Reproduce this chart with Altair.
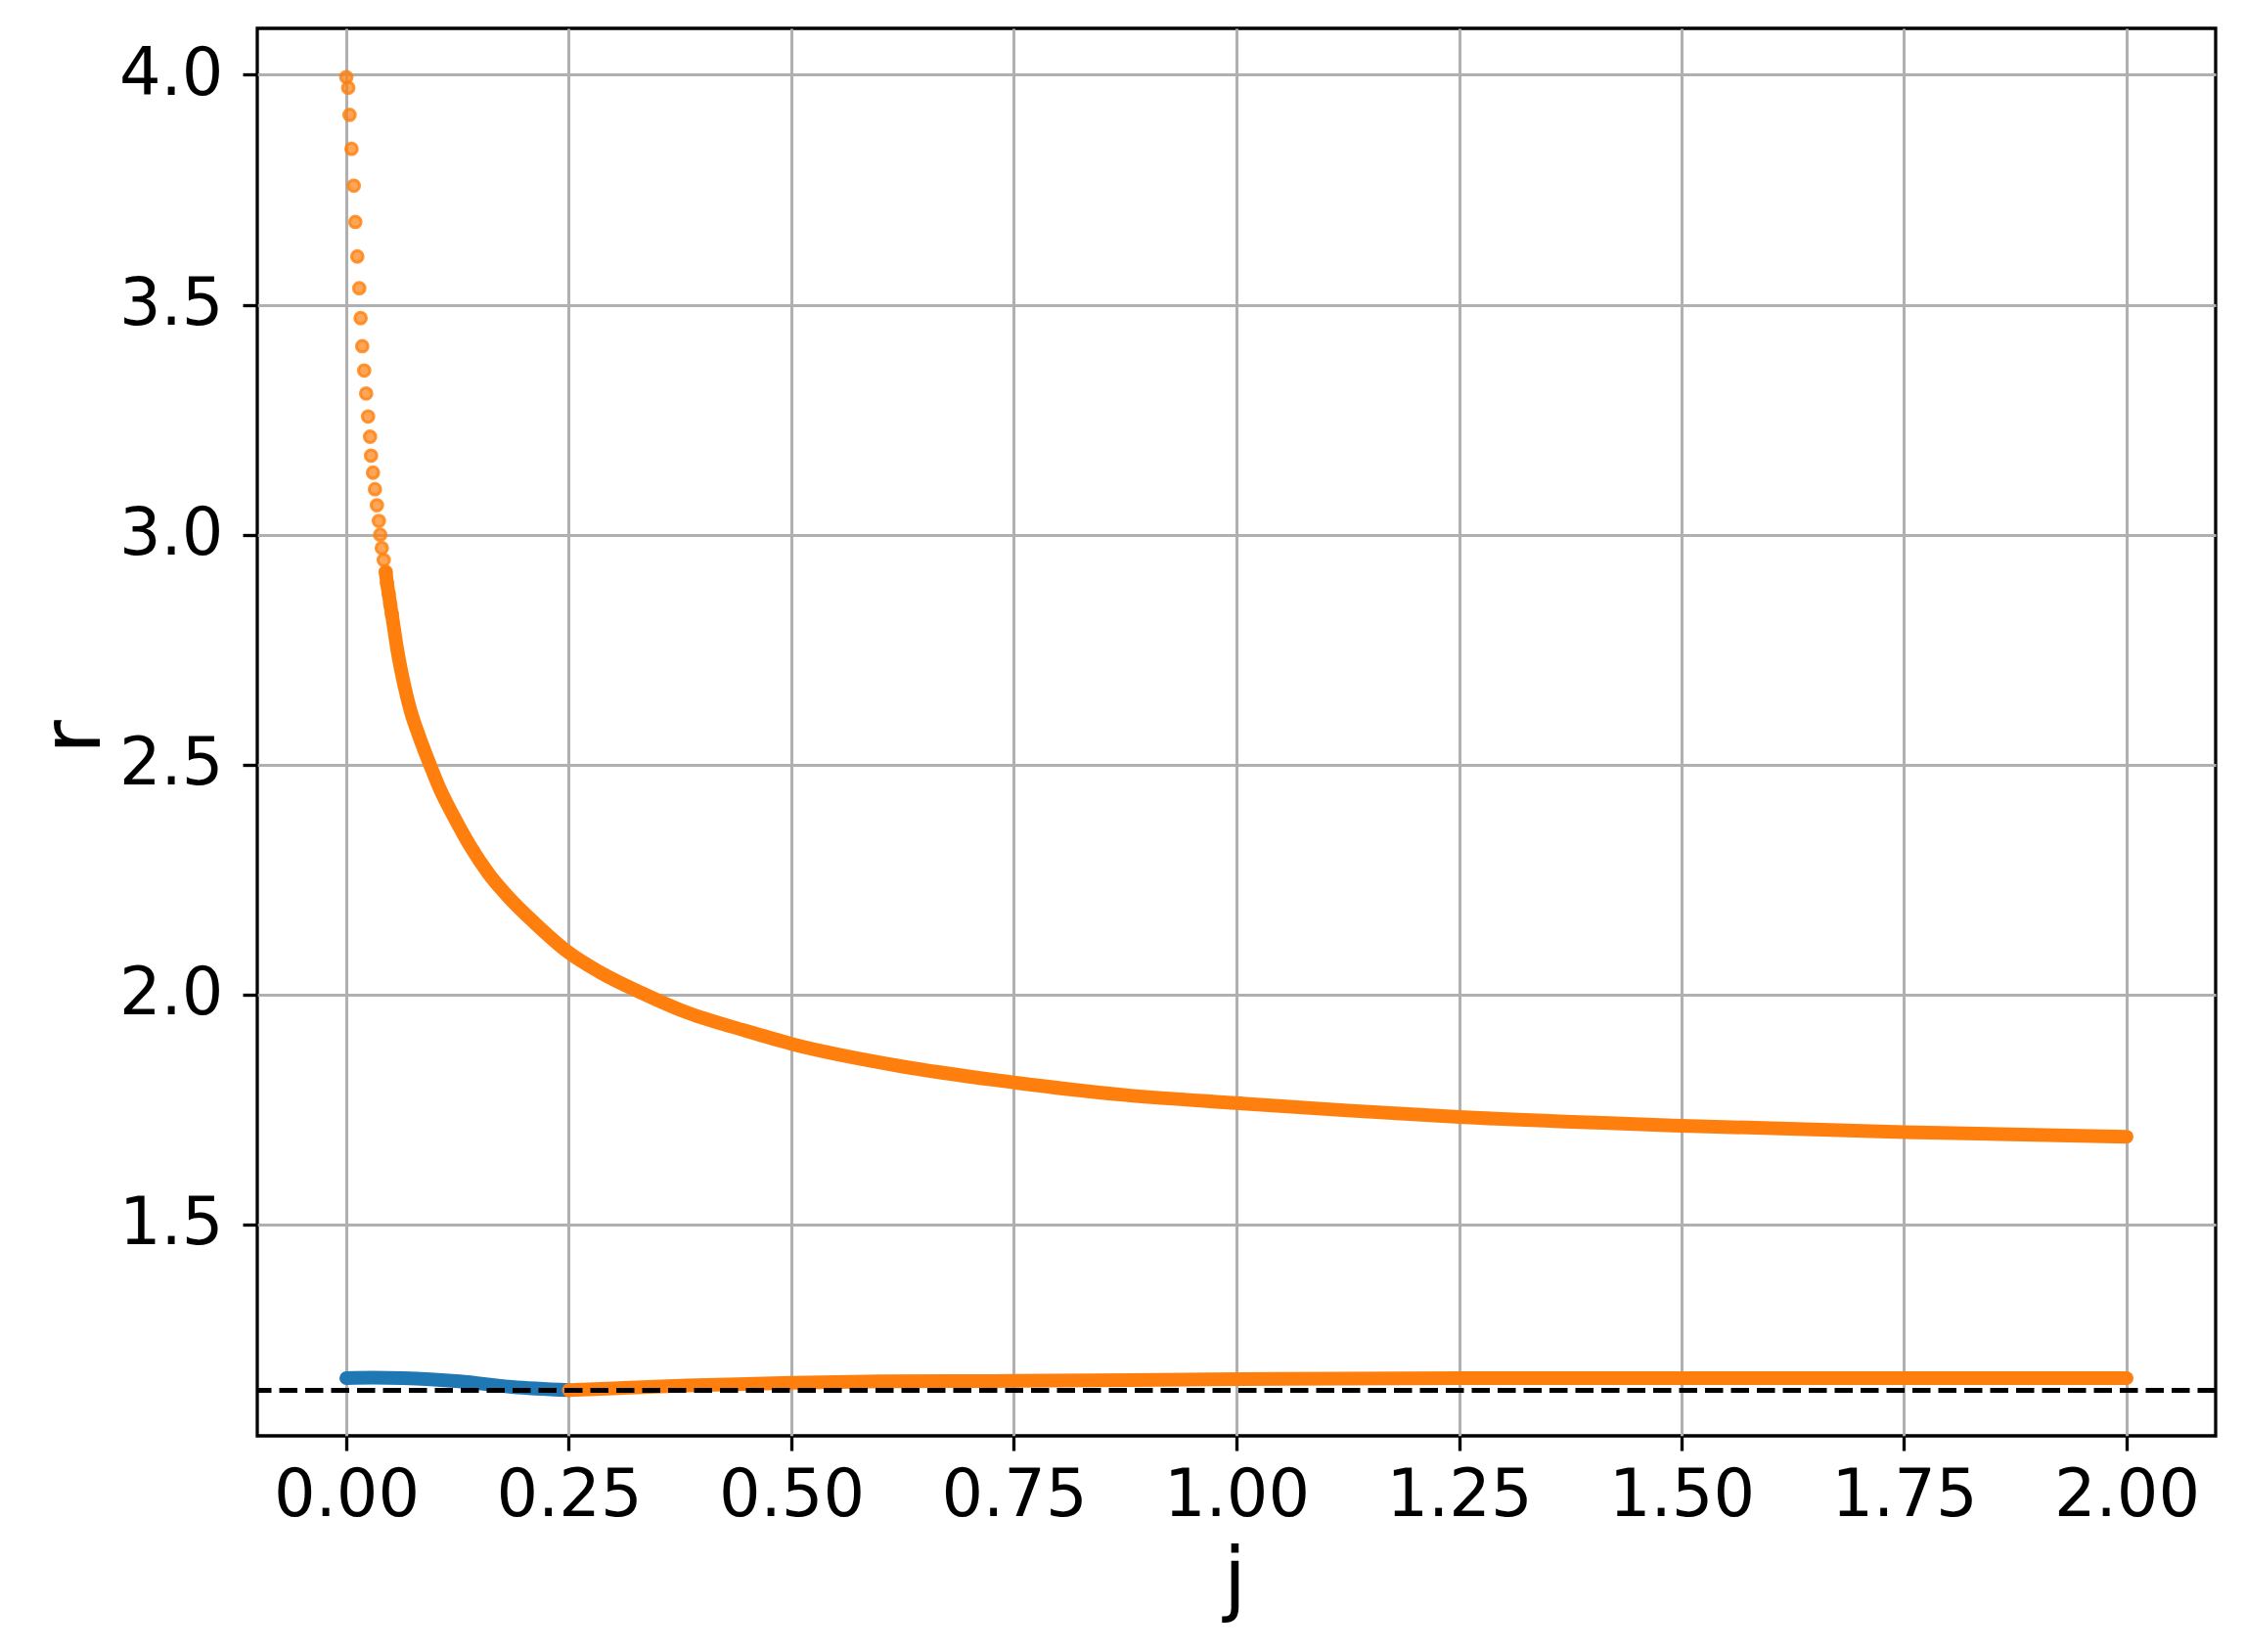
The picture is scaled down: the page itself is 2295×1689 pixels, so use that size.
import altair as alt
import pandas as pd

# ---- data ----
# sparse dots at the top of the upper (orange) branch
top_j = [0.0000, 0.0022, 0.0037, 0.0059, 0.0084, 0.0102, 0.0124, 0.0146, 0.0161,
         0.0179, 0.0201, 0.0223, 0.0245, 0.0267, 0.0278, 0.0300, 0.0322, 0.0344,
         0.0366, 0.0381, 0.0399, 0.0421, 0.0443, 0.0458, 0.0476, 0.0494, 0.0513]
top_r = [3.995, 3.972, 3.913, 3.839, 3.759, 3.680, 3.605, 3.536, 3.471,
         3.410, 3.357, 3.307, 3.257, 3.213, 3.172, 3.135, 3.099, 3.064,
         3.030, 3.000, 2.971, 2.945, 2.919, 2.894, 2.872, 2.849, 2.826]

# dense part of the upper branch
up_j = [0.0443, 0.0458, 0.0476, 0.0494, 0.0513, 0.0578, 0.0651, 0.0724,
        0.0816, 0.0944, 0.1054, 0.120, 0.1383, 0.1603, 0.1822, 0.2115, 0.2495,
        0.2847, 0.3359, 0.380, 0.4493, 0.500, 0.624, 0.750, 0.873, 1.000,
        1.125, 1.250, 1.500, 1.750, 2.000]
up_r = [2.919, 2.894, 2.872, 2.849, 2.826, 2.744, 2.673, 2.616,
        2.563, 2.498, 2.446, 2.390, 2.326, 2.262, 2.212, 2.156, 2.092,
        2.049, 2.000, 1.963, 1.921, 1.893, 1.844, 1.809, 1.782, 1.764,
        1.748, 1.734, 1.715, 1.701, 1.691]

# lower branch, blue part
blue_j = [0.000, 0.030, 0.064, 0.127, 0.186, 0.250]
blue_r = [1.166, 1.167, 1.166, 1.159, 1.147, 1.140]

# lower branch, orange part
low_j = [0.250, 0.300, 0.382, 0.500, 0.600, 0.750, 1.000, 1.250, 1.500, 1.750, 2.000]
low_r = [1.140, 1.144, 1.150, 1.156, 1.159, 1.160, 1.164, 1.166, 1.166, 1.166, 1.166]

ref_r = [1.1397]

x_ticks = [0.0, 0.25, 0.5, 0.75, 1.0, 1.25, 1.5, 1.75, 2.0]
y_ticks = [1.5, 2.0, 2.5, 3.0, 3.5, 4.0]

ORANGE = "#ff7f0e"
BLUE = "#1f77b4"
FONT = "DejaVu Sans"
BAND = 14

top_df = pd.DataFrame({"j": top_j, "r": top_r})
up_df = pd.DataFrame({"j": up_j, "r": up_r})
blue_df = pd.DataFrame({"j": blue_j, "r": blue_r})
low_df = pd.DataFrame({"j": low_j, "r": low_r})
ref_df = pd.DataFrame({"r": ref_r})

xscale = alt.Scale(domain=[-0.1, 2.1], nice=False, zero=False)
yscale = alt.Scale(domain=[1.0406, 4.101], nice=False, zero=False)

x_enc = alt.X("j:Q", scale=xscale, title="j",
              axis=alt.Axis(values=x_ticks, format=".2f", grid=True, domain=False,
                            tickSize=15, tickWidth=3.3, tickColor="black",
                            labelFontSize=67, labelFont=FONT, labelColor="black",
                            labelBaseline="alphabetic", labelPadding=66,
                            labelFlush=False, labelOverlap=False,
                            gridColor="#b0b0b0", gridWidth=3,
                            titleFontSize=84, titleFont=FONT, titleFontWeight="normal",
                            titleColor="black", titleBaseline="alphabetic",
                            titleX=999, titleY=173, titleAlign="center"))
y_enc = alt.Y("r:Q", scale=yscale, title="r",
              axis=alt.Axis(values=y_ticks, format=".1f", grid=True, domain=False,
                            tickSize=15, tickWidth=3.3, tickColor="black",
                            labelFontSize=67, labelFont=FONT, labelColor="black",
                            labelPadding=20, labelFlush=False, labelOverlap=False,
                            gridColor="#b0b0b0", gridWidth=3,
                            titleFontSize=84, titleFont=FONT, titleFontWeight="normal",
                            titleColor="black", titleAngle=270,
                            titleBaseline="alphabetic", titleAlign="center",
                            titleX=-162, titleY=724))

blue_line = alt.Chart(blue_df).mark_line(
    color=BLUE, strokeWidth=BAND, strokeCap="round", interpolate="monotone"
).encode(x=x_enc, y=y_enc, order="j:Q")

low_line = alt.Chart(low_df).mark_line(
    color=ORANGE, strokeWidth=BAND, strokeCap="round", interpolate="monotone"
).encode(x="j:Q", y="r:Q", order="j:Q")

up_line = alt.Chart(up_df).mark_line(
    color=ORANGE, strokeWidth=BAND, strokeCap="round", interpolate="monotone"
).encode(x="j:Q", y="r:Q", order="j:Q")

top_pts = alt.Chart(top_df).mark_point(
    shape="circle", filled=False, fill=ORANGE, fillOpacity=0.7,
    stroke=ORANGE, strokeOpacity=0.8, strokeWidth=3, size=140
).encode(x="j:Q", y="r:Q")

ref_rule = alt.Chart(ref_df).mark_rule(
    color="black", strokeWidth=5, strokeDash=[18.5, 8]
).encode(y="r:Q")

chart = alt.layer(blue_line, low_line, up_line, top_pts, ref_rule).properties(
    width=2002, height=1439,
    autosize=alt.AutoSizeParams(type="none"),
    padding={"left": 255, "top": 21, "right": 22, "bottom": 213},
).configure(
    background="white",
    view=alt.ViewConfig(stroke="black", strokeWidth=3.3, fill="white"),
)

chart.save("out.html", embed_options={"renderer": "svg", "actions": False})
